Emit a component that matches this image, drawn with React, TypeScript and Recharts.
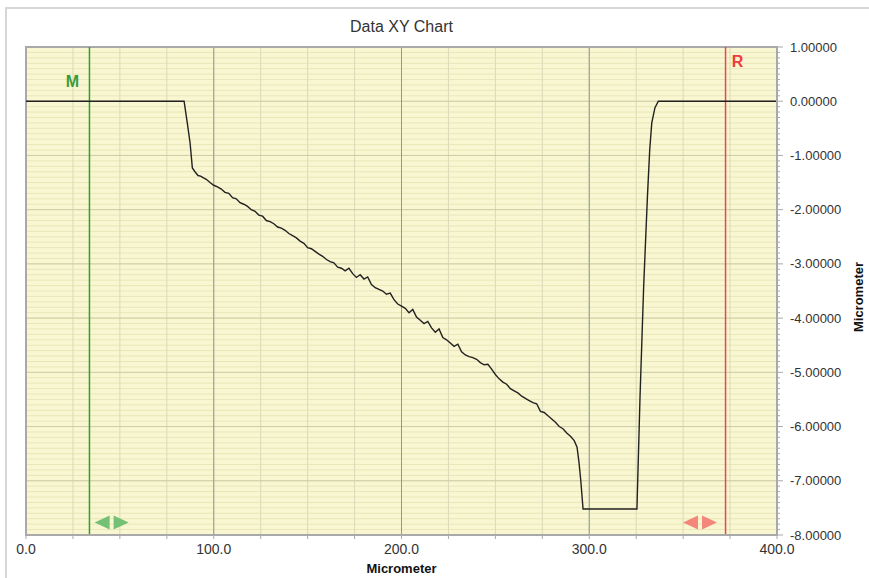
import { LineChart, Line, XAxis, YAxis, CartesianGrid, ReferenceLine, ReferenceDot, ReferenceArea } from "recharts";

// Surface profile: position (µm) and height (µm)
const profileX = [
  0, 84.2, 85.9, 87.4, 88.6, 90, 91.6, 93, 94.3, 96, 98, 100, 102, 104, 106, 108, 110, 112, 114, 116, 118,
  120, 122, 124, 126, 128, 130, 132, 134, 136, 138, 140, 142, 144, 146, 148, 150, 152, 154, 156, 158,
  160, 162, 164, 166, 168, 170, 172, 174, 176, 178, 180, 182, 184, 186, 188, 190, 192, 194, 196, 198,
  200, 202, 204, 206, 208, 210, 212, 214, 216, 218, 220, 222, 224, 226, 228, 230, 232, 234, 236, 238,
  240, 242, 244, 246, 248, 250, 252, 254, 256, 258, 260, 262, 264, 266, 268, 270, 272, 274, 276, 278,
  280, 282, 284, 286, 288, 290, 292, 293.5, 294.5, 295.5, 296.7, 325.4, 327, 329, 331, 332.2, 333.3,
  335, 336.8, 400,
];
const profileY = [
  0, 0, -0.4, -0.77, -1.23, -1.3, -1.37, -1.38, -1.41, -1.44, -1.5, -1.55, -1.58, -1.62, -1.68, -1.7, -1.78, -1.8, -1.87, -1.9, -1.94,
  -2.0, -2.03, -2.1, -2.12, -2.2, -2.22, -2.26, -2.32, -2.34, -2.38, -2.44, -2.48, -2.52, -2.58, -2.62, -2.7, -2.72, -2.77, -2.82, -2.86,
  -2.92, -2.96, -2.98, -3.06, -3.08, -3.13, -3.08, -3.18, -3.25, -3.2, -3.28, -3.24, -3.38, -3.44, -3.47, -3.5, -3.56, -3.54, -3.66, -3.74,
  -3.78, -3.82, -3.9, -3.84, -3.98, -4.04, -4.1, -4.06, -4.18, -4.26, -4.2, -4.36, -4.4, -4.46, -4.52, -4.48, -4.62, -4.68, -4.71, -4.73,
  -4.76, -4.82, -4.86, -4.85, -4.94, -5.04, -5.12, -5.18, -5.22, -5.3, -5.34, -5.38, -5.44, -5.48, -5.52, -5.56, -5.58, -5.72, -5.74, -5.8,
  -5.86, -5.92, -6.0, -6.04, -6.12, -6.18, -6.26, -6.38, -6.65, -7.0, -7.52, -7.52, -5.5, -3.4, -1.75, -0.9, -0.4,
  -0.12, 0, 0,
];

const xLabelTicks = [0, 100, 200, 300, 400];
const yLabelTicks = [1, 0, -1, -2, -3, -4, -5, -6, -7, -8];
const xMinorStep = 25;

// measurement cursors
const markerM = 33.8;
const markerR = 372.6;
const handleM = { x: 45.6, y: -7.77 };
const handleR = { x: 359, y: -7.77 };

const data = profileX.map((x, i) => ({ x, y: profileY[i] }));

const xMinorTicks = Array.from({ length: 400 / xMinorStep + 1 }, (_, i) => i * xMinorStep);
const yMinorTicks = Array.from({ length: 91 }, (_, i) => (i - 80) / 10);

const FONT = "Arial, 'Liberation Sans', sans-serif";
const AXIS_GRAY = "#a9a9a9";

const isWhole = (v: number) => Math.abs(v - Math.round(v)) < 1e-6;

const YTick = (props: any) => {
  const { x, y, payload } = props;
  const v = payload.value as number;
  const major = isWhole(v);
  const ax = x - 13;
  return (
    <g>
      <line x1={ax} x2={ax + (major ? 6 : 3)} y1={y} y2={y} stroke={AXIS_GRAY} />
      {major && (
        <text x={x} y={y} dy="0.35em" textAnchor="start" fontSize={13} fill="#333" fontFamily={FONT}>
          {v.toFixed(5)}
        </text>
      )}
    </g>
  );
};

const XTick = (props: any) => {
  const { x, y, payload } = props;
  const v = payload.value as number;
  const ay = y - 14;
  return (
    <g>
      <line x1={x} x2={x} y1={ay} y2={ay + 4} stroke={AXIS_GRAY} />
      {v % 100 === 0 && (
        <text x={x} y={y} dy="0.35em" textAnchor="middle" fontSize={14} fill="#333" fontFamily={FONT}>
          {v.toFixed(1)}
        </text>
      )}
    </g>
  );
};

const Handle = ({ cx, cy, fill }: any) => (
  <g fill={fill}>
    <polygon points={`${cx - 17},${cy} ${cx - 2},${cy - 7} ${cx - 2},${cy + 7}`} />
    <polygon points={`${cx + 2},${cy - 7} ${cx + 17},${cy} ${cx + 2},${cy + 7}`} />
  </g>
);

export default function App() {
  return (
    <div style={{ position: "absolute", left: 0, top: 0, width: 869, height: 578, background: "#fff", overflow: "hidden" }}>
      <div
        style={{
          position: "absolute",
          left: 5,
          top: 7,
          width: 900,
          height: 600,
          borderTop: "2px solid #d6d6d2",
          borderLeft: "2px solid #d6d6d2",
        }}
      />
      <div
        style={{
          position: "absolute",
          left: 26,
          width: 751,
          top: 18,
          textAlign: "center",
          fontFamily: FONT,
          fontSize: 16,
          color: "#333",
        }}
      >
        Data XY Chart
      </div>
      <div style={{ position: "absolute", left: 0, top: 0 }}>
        <LineChart width={869} height={578} data={data} margin={{ top: 47, left: 26, right: 0, bottom: 0 }}>
          <CartesianGrid
            fill="#f8f7d2"
            vertical={false}
            horizontalValues={yMinorTicks}
            stroke="#e9e6b8"
          />
          <CartesianGrid
            horizontal={false}
            verticalValues={xMinorTicks}
            stroke="#dbd9b8"
          />
          <CartesianGrid
            vertical={false}
            horizontalValues={yLabelTicks}
            stroke="#cfcca6"
          />
          <CartesianGrid
            horizontal={false}
            verticalValues={xLabelTicks}
            stroke="#8f9798"
          />
          <XAxis
            dataKey="x"
            type="number"
            domain={[0, 400]}
            ticks={xMinorTicks}
            interval={0}
            height={43}
            tickSize={0}
            tickMargin={14}
            tick={<XTick />}
            axisLine={{ stroke: AXIS_GRAY, strokeWidth: 2 }}
            label={({ viewBox }: any) => (
              <text
                x={viewBox.x + viewBox.width / 2}
                y={viewBox.y + 33}
                dy="0.35em"
                textAnchor="middle"
                fontSize={13}
                fontWeight="bold"
                fill="#111"
                fontFamily={FONT}
              >
                Micrometer
              </text>
            )}
          />
          <YAxis
            orientation="right"
            type="number"
            domain={[-8, 1]}
            ticks={yMinorTicks}
            interval={0}
            width={92}
            tickSize={0}
            tickMargin={13}
            tick={<YTick />}
            axisLine={{ stroke: AXIS_GRAY, strokeWidth: 2 }}
            label={({ viewBox }: any) => {
              const cx = viewBox.x + 81;
              const cy = viewBox.y + viewBox.height / 2 + 6;
              return (
                <text
                  x={cx}
                  y={cy}
                  dy="0.35em"
                  textAnchor="middle"
                  transform={`rotate(-90, ${cx}, ${cy})`}
                  fontSize={13}
                  fontWeight="bold"
                  fill="#111"
                  fontFamily={FONT}
                >
                  Micrometer
                </text>
              );
            }}
          />
          <ReferenceArea x1={0} x2={400} y1={-8} y2={1} fill="none" stroke={AXIS_GRAY} strokeWidth={2} />
          <ReferenceLine
            x={markerM}
            stroke="#2f9f2f"
            strokeWidth={1.5}
            strokeOpacity={1}
            label={({ viewBox }: any) => (
              <text x={viewBox.x - 17} y={viewBox.y + 34} dy="0.35em" textAnchor="middle" fontSize={16} fontWeight="bold" fill="#3c9a3c" fontFamily={FONT}>
                M
              </text>
            )}
          />
          <ReferenceLine
            x={markerR}
            stroke="#ee4450"
            strokeWidth={1.5}
            strokeOpacity={1}
            label={({ viewBox }: any) => (
              <text x={viewBox.x + 12} y={viewBox.y + 14} dy="0.35em" textAnchor="middle" fontSize={16} fontWeight="bold" fill="#ef3b3b" fontFamily={FONT}>
                R
              </text>
            )}
          />
          <ReferenceDot x={handleM.x} y={handleM.y} shape={(p: any) => <Handle {...p} fill="#74c074" />} />
          <ReferenceDot x={handleR.x} y={handleR.y} shape={(p: any) => <Handle {...p} fill="#f3877c" />} />
          <Line
            type="linear"
            dataKey="y"
            stroke="#222"
            strokeWidth={1.4}
            dot={false}
            activeDot={false}
            isAnimationActive={false}
          />
        </LineChart>
      </div>
    </div>
  );
}
